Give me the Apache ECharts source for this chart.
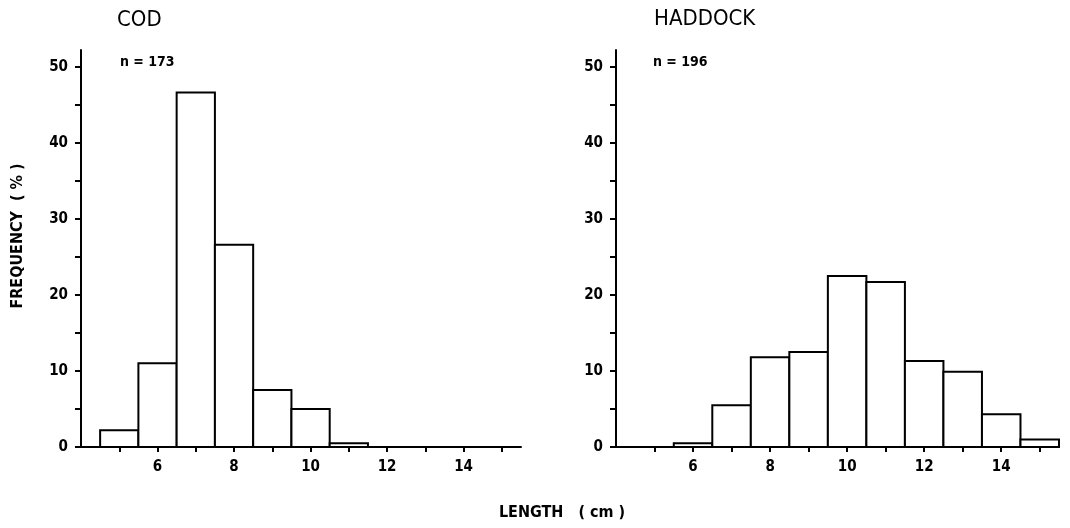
<!DOCTYPE html>
<html>
<head>
<meta charset="utf-8">
<script src="https://cdn.jsdelivr.net/npm/echarts@6/dist/echarts.min.js"></script>
<style>
  html, body { margin: 0; padding: 0; background: #fff; }
  #chart { width: 1070px; height: 528px; }
</style>
</head>
<body>
<div id="chart"></div>
<script>
// length classes (cm), bars centred on each value, 1 cm wide
const codLength = [5, 6, 7, 8, 9, 10, 11];
const codFreq = [2.2, 11.0, 46.6, 26.6, 7.5, 5.0, 0.5];
const haddockLength = [6, 7, 8, 9, 10, 11, 12, 13, 14, 15];
const haddockFreq = [0.5, 5.5, 11.8, 12.5, 22.5, 21.7, 11.3, 9.9, 4.3, 1.0];

const xTicks = [5, 6, 7, 8, 9, 10, 11, 12, 13, 14, 15];
const xLabels = [6, 8, 10, 12, 14];
const yTicks = [0, 5, 10, 15, 20, 25, 30, 35, 40, 45, 50];
const yLabels = [0, 10, 20, 30, 40, 50];

const FONT = '"DejaVu Sans Condensed", "DejaVu Sans", sans-serif';

function toData(xs, ys){
	return xs.map((x, i) => [x, ys[i]]);
}

function renderBar(params, api){
	const x = api.value(0), y = api.value(1);
	const p0 = api.coord([x - 0.5, 0]);
	const p1 = api.coord([x + 0.5, y]);
	return {
		type: 'rect',
		shape: { x: p0[0], y: p1[1], width: p1[0] - p0[0], height: p0[1] - p1[1] },
		style: { fill: '#fff', stroke: '#000', lineWidth: 2 }
	};
}

function xAxisOpt(idx){
	return {
		type: 'value', gridIndex: idx, min: 4, max: 15.5,
		axisLine: { show: true, lineStyle: { color: '#000', width: 2 } },
		axisTick: { show: true, customValues: xTicks, length: 5, lineStyle: { color: '#000', width: 2 } },
		axisLabel: { customValues: xLabels, color: '#000', fontFamily: FONT, fontWeight: 'bold', fontSize: 15, margin: 13 },
		splitLine: { show: false }
	};
}
function yAxisOpt(idx){
	return {
		type: 'value', gridIndex: idx, min: 0, max: 52.2,
		axisLine: { show: true, lineStyle: { color: '#000', width: 2 } },
		axisTick: { show: true, customValues: yTicks, length: 6, lineStyle: { color: '#000', width: 2 } },
		axisLabel: { customValues: yLabels, color: '#000', fontFamily: FONT, fontWeight: 'bold', fontSize: 15, margin: 13 },
		splitLine: { show: false }
	};
}

const myChart = echarts.init(document.getElementById('chart'));
myChart.setOption({
	animation: false,
	backgroundColor: '#fff',
	grid: [
		{ left: 81, top: 50, width: 440, height: 397 },
		{ left: 616, top: 50, width: 443, height: 397 }
	],
	xAxis: [xAxisOpt(0), xAxisOpt(1)],
	yAxis: [yAxisOpt(0), yAxisOpt(1)],
	series: [
		{ type: 'custom', xAxisIndex: 0, yAxisIndex: 0, renderItem: renderBar, data: toData(codLength, codFreq) },
		{ type: 'custom', xAxisIndex: 1, yAxisIndex: 1, renderItem: renderBar, data: toData(haddockLength, haddockFreq) }
	],
	graphic: [
		{ type: 'text', left: 117, top: 9, style: { text: 'COD', fontFamily: FONT, fontSize: 22, fill: '#000' } },
		{ type: 'text', left: 654, top: 8, style: { text: 'HADDOCK', fontFamily: FONT, fontSize: 22, fill: '#000' } },
		{ type: 'text', left: 120, top: 55, style: { text: 'n = 173', fontFamily: FONT, fontWeight: 'bold', fontSize: 14, fill: '#000' } },
		{ type: 'text', left: 653, top: 55, style: { text: 'n = 196', fontFamily: FONT, fontWeight: 'bold', fontSize: 14, fill: '#000' } },
		{ type: 'text', x: 18, y: 236, rotation: Math.PI / 2,
		  style: { text: 'FREQUENCY  ( % )', fontFamily: FONT, fontWeight: 'bold', fontSize: 16, fill: '#000', align: 'center', verticalAlign: 'middle' } },
		{ type: 'text', x: 562, y: 513,
		  style: { text: 'LENGTH   ( cm )', fontFamily: FONT, fontWeight: 'bold', fontSize: 16, fill: '#000', align: 'center', verticalAlign: 'middle' } }
	]
});
</script>
</body>
</html>
